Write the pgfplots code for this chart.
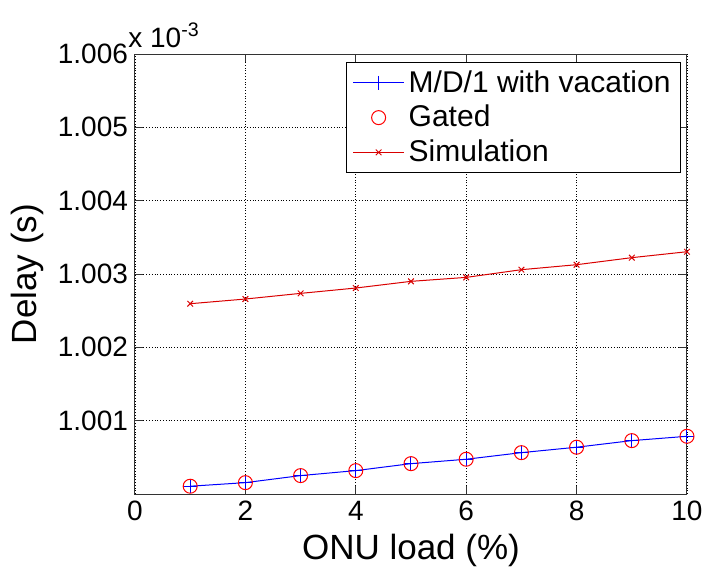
\documentclass[border=0pt]{standalone}
\usepackage{pgfplots}
\pgfplotsset{compat=1.18}
\usepackage{fontspec}
\setmainfont{Liberation Sans}

% delay in units of 1e-3 s
\pgfplotstableread{
x   y
1   1.000106
2   1.000155
3   1.000251
4   1.000319
5   1.000414
6   1.000474
7   1.000564
8   1.000638
9   1.000728
10  1.000787
}\modeldata

\pgfplotstableread{
x   y
1   1.002595
2   1.002659
3   1.002736
4   1.002809
5   1.002900
6   1.002954
7   1.003059
8   1.003127
9   1.003223
10  1.003304
}\simdata

\begin{document}
\begin{tikzpicture}
\begin{axis}[
    scale only axis,
    width=276pt, height=220pt,
    xmin=0, xmax=10,
    ymin=1.000, ymax=1.006,
    xtick={0,2,4,6,8,10},
    ytick={1.001,1.002,1.003,1.004,1.005,1.006},
    scaled y ticks=false,
    yticklabel style={/pgf/number format/.cd, fixed, precision=3, zerofill},
    /pgf/number format/assume math mode=true,
    tick label style={font=\fontsize{14}{16}\selectfont},
    label style={font=\fontsize{17.5}{20}\selectfont},
    xlabel={ONU load (\%)},
    ylabel={Delay (s)},
    grid=major,
    grid style={black, densely dotted, line width=0.4pt},
    tick align=inside,
    major tick length=4pt,
    tick style={black!80, line width=0.5pt},
    axis line style={black!80, line width=0.5pt},
    legend style={
        at={(rel axis cs:1,1)}, anchor=north east,
        xshift=-3pt, yshift=-4pt,
        draw=black, line width=0.5pt, fill=white,
        font=\fontsize{15}{17}\selectfont,
        row sep=1pt, inner xsep=3pt, inner ysep=2pt,
    },
    legend cell align=left,
    legend image code/.code={
        \draw[mark repeat=2, mark phase=2, #1]
            plot coordinates {(0cm,0cm) (0.45cm,0cm) (0.9cm,0cm)};
    },
]
\addplot[blue, line width=0.5pt, mark=+, mark size=3.5pt] table {\modeldata};
\addlegendentry{M/D/1 with vacation}
\addplot[red, only marks, mark=o, mark size=3.5pt, line width=0.5pt] table {\modeldata};
\addlegendentry{Gated}
\addplot[red!85!black, line width=0.5pt, mark=x, mark size=2pt] table {\simdata};
\addlegendentry{Simulation}
\coordinate (sw) at (rel axis cs:0,0);
\coordinate (nw) at (rel axis cs:0,1);
\end{axis}
\node[anchor=south west, inner sep=0pt, font=\fontsize{14}{16}\selectfont]
    at ([xshift=-3.5pt, yshift=3pt]nw) {x 10\textsuperscript{-3}};
\pgfresetboundingbox
\path[use as bounding box] (sw) ++(-67.5pt,-37.5pt) rectangle ++(351.5pt,284.5pt);
\end{tikzpicture}
\end{document}
